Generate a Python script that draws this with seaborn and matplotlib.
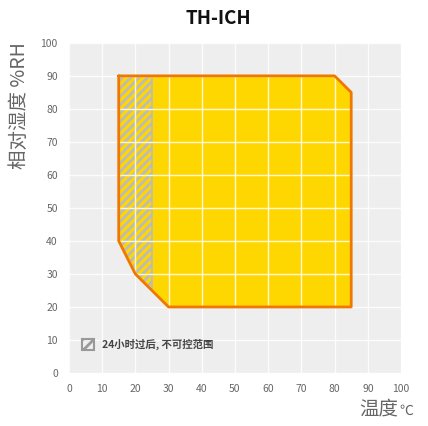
import matplotlib
matplotlib.use('Agg')
import matplotlib.pyplot as plt
import seaborn as sns
import pandas as pd
from matplotlib.patches import Patch

# boundary of the controllable range (temperature, humidity)
temp = [15, 80, 85, 85, 30, 20, 15, 15]
humid = [90, 90, 85, 20, 20, 30, 40, 90]

# range that is not controllable after 24 hours
hatch_temp = [15, 25, 25, 20, 15, 15]
hatch_humid = [90, 90, 25, 30, 40, 90]

ticks = list(range(0, 101, 10))
legend_label = '24小时过后, 不可控范围'

sns.set_theme(style='darkgrid', rc={'axes.facecolor': '#eeeeee',
                                     'grid.color': 'white',
                                     'grid.linewidth': 1.0})
plt.rcParams['font.family'] = ['Noto Sans CJK SC', 'DejaVu Sans']
plt.rcParams['hatch.color'] = '#bbbbbb'
plt.rcParams['hatch.linewidth'] = 2.0

fig = plt.figure(figsize=(4.28, 4.26), dpi=100)
ax = fig.add_axes([0.161, 0.1244, 0.776, 0.775])

df = pd.DataFrame({'temp': temp, 'humid': humid})

ax.fill(temp, humid, color='#ffd700', zorder=1, linewidth=0)
ax.fill(hatch_temp, hatch_humid, facecolor='#ffd700', edgecolor='#bbbbbb',
        hatch='////', linewidth=1.2, zorder=2)
ax.set_axisbelow(False)
ax.grid(True, color='white', linewidth=1.0, alpha=0.85, zorder=2.5)
sns.lineplot(data=df, x='temp', y='humid', sort=False, estimator=None,
             color='#f07800', linewidth=2, ax=ax, zorder=3)

ax.set_xlim(0, 100)
ax.set_ylim(0, 100)
ax.set_xticks(ticks)
ax.set_yticks(ticks)
ax.tick_params(labelsize=7.5, colors='#666666', length=0, pad=8)
for s in ax.spines.values():
    s.set_visible(False)

ax.set_xlabel('')
ax.set_ylabel('')
fig.text(0.93, 0.015, '温度', fontsize=14, color='#666666', ha='right', va='bottom')
fig.text(0.932, 0.02, '℃', fontsize=10, color='#666666', ha='left', va='bottom')
fig.text(0.045, 0.9, '相对湿度 %RH', fontsize=14, color='#666666', rotation=90,
         ha='center', va='top')
fig.text(0.51, 0.957, 'TH-ICH', fontsize=13.5, fontweight='bold', color='#111111',
         ha='center', va='center')

handle = Patch(facecolor='#eeeeee', edgecolor='#999999', hatch='///', linewidth=1.5)
ax.legend([handle], [legend_label], loc='lower left', bbox_to_anchor=(0.01, 0.04),
          frameon=False, handlelength=1.2, handleheight=1.2,
          labelcolor='#444444', prop={'weight': 'bold', 'size': 7.5})

fig.savefig('out.png', dpi=100)
